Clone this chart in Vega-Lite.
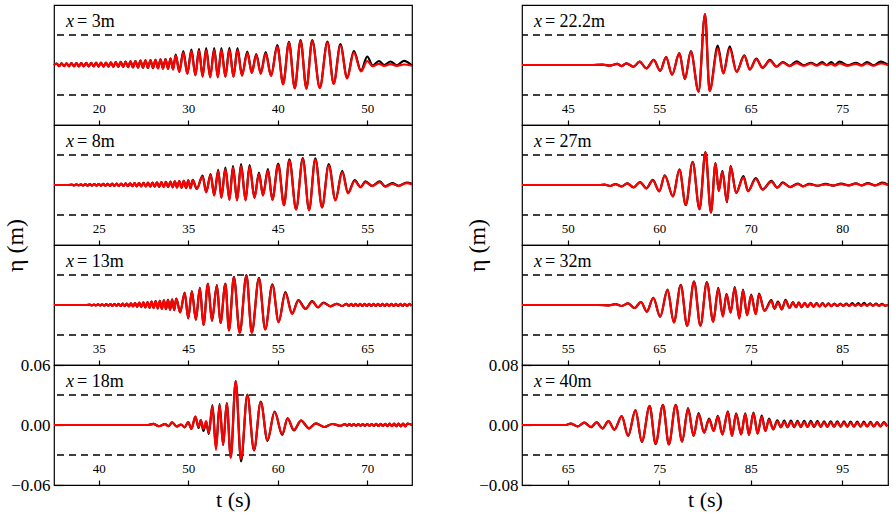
{
"$schema":"https://vega.github.io/schema/vega-lite/v6.json",
"background":"white",
"padding":{"left":2,"top":4,"right":2,"bottom":2},
"config":{"font":"serif","view":{"stroke":"black","strokeWidth":1.2},
"style":{"guide-label":{"font":"serif","fill":"black"},"guide-title":{"font":"serif","fill":"black","fontWeight":"normal"}},
"axis":{"domain":false,"grid":false,"labelFont":"serif","titleFont":"serif","tickColor":"black","labelColor":"black","titleColor":"black","titleFontWeight":"normal","labelFlush":false,"labelOverlap":false,"tickWidth":1.2},
"axisX":{"labelFont":"serif","titleFont":"serif","tickSize":-5,"labelFontSize":13,"labelPadding":-12,"labelBaseline":"middle","titleFontSize":22,"titlePadding":4},
"axisY":{"labelFont":"serif","titleFont":"serif","tickSize":-9,"labelFontSize":17,"labelPadding":13,"titleFontSize":24}},
"datasets":{
"d1":[{"t":15,"r":0,"b":0},{"t":15.3,"r":0.0015,"b":0.0015},{"t":15.58,"r":-0.0012,"b":-0.0012},{"t":15.85,"r":0.0016,"b":0.0016},{"t":16.13,"r":-0.0012,"b":-0.0012},{"t":16.4,"r":0.0017,"b":0.0017},{"t":16.68,"r":-0.0013,"b":-0.0013},{"t":16.95,"r":0.0018,"b":0.0018},{"t":17.23,"r":-0.0013,"b":-0.0013},{"t":17.5,"r":0.0019,"b":0.0019},{"t":17.78,"r":-0.0014,"b":-0.0014},{"t":18.05,"r":0.002,"b":0.002},{"t":18.33,"r":-0.0014,"b":-0.0014},{"t":18.6,"r":0.0021,"b":0.0021},{"t":18.88,"r":-0.0015,"b":-0.0015},{"t":19.15,"r":0.0022,"b":0.0022},{"t":19.43,"r":-0.0015,"b":-0.0015},{"t":19.7,"r":0.0023,"b":0.0023},{"t":19.98,"r":-0.0016,"b":-0.0016},{"t":20.25,"r":0.0024,"b":0.0024},{"t":20.53,"r":-0.0016,"b":-0.0016},{"t":20.8,"r":0.0025,"b":0.0025},{"t":21.08,"r":-0.0017,"b":-0.0017},{"t":21.35,"r":0.0027,"b":0.0027},{"t":21.63,"r":-0.0018,"b":-0.0018},{"t":21.9,"r":0.0029,"b":0.0029},{"t":22.18,"r":-0.0019,"b":-0.0019},{"t":22.45,"r":0.0031,"b":0.0031},{"t":22.73,"r":-0.002,"b":-0.002},{"t":23,"r":0.0034,"b":0.0034},{"t":23.28,"r":-0.0022,"b":-0.0022},{"t":23.55,"r":0.0037,"b":0.0037},{"t":23.83,"r":-0.0024,"b":-0.0024},{"t":24.1,"r":0.004,"b":0.004},{"t":24.38,"r":-0.0026,"b":-0.0026},{"t":24.66,"r":0.0043,"b":0.0043},{"t":24.94,"r":-0.0028,"b":-0.0028},{"t":25.22,"r":0.0046,"b":0.0046},{"t":25.5,"r":-0.003,"b":-0.003},{"t":25.78,"r":0.0049,"b":0.0049},{"t":26.06,"r":-0.0032,"b":-0.0032},{"t":26.34,"r":0.0052,"b":0.0052},{"t":26.62,"r":-0.0034,"b":-0.0034},{"t":26.9,"r":0.0055,"b":0.0056},{"t":27.18,"r":-0.0036,"b":-0.0036},{"t":27.46,"r":0.0058,"b":0.006},{"t":27.74,"r":-0.0038,"b":-0.0038},{"t":28.02,"r":0.0062,"b":0.0066},{"t":28.3,"r":-0.0045,"b":-0.0044},{"t":28.6,"r":0.0095,"b":0.0105},{"t":29,"r":-0.007,"b":-0.0065},{"t":29.45,"r":0.0125,"b":0.014},{"t":29.9,"r":-0.009,"b":-0.0085},{"t":30.35,"r":0.0138,"b":0.0155},{"t":30.8,"r":-0.0105,"b":-0.01},{"t":31.2,"r":0.0145,"b":0.0162},{"t":31.6,"r":-0.0118,"b":-0.0112},{"t":32,"r":0.015,"b":0.0168},{"t":32.45,"r":-0.0125,"b":-0.012},{"t":32.9,"r":0.0152,"b":0.017},{"t":33.3,"r":-0.0125,"b":-0.012},{"t":33.7,"r":0.0152,"b":0.017},{"t":34.15,"r":-0.012,"b":-0.0115},{"t":34.6,"r":0.0155,"b":0.0172},{"t":35.05,"r":-0.012,"b":-0.0115},{"t":35.5,"r":0.015,"b":0.0168},{"t":36,"r":-0.0108,"b":-0.0102},{"t":36.6,"r":0.012,"b":0.0135},{"t":37.1,"r":-0.008,"b":-0.0075},{"t":37.6,"r":0.0098,"b":0.011},{"t":38.1,"r":-0.0088,"b":-0.0083},{"t":38.65,"r":0.0115,"b":0.013},{"t":39.25,"r":-0.011,"b":-0.0105},{"t":39.95,"r":0.0185,"b":0.0198},{"t":40.6,"r":-0.0195,"b":-0.0188},{"t":41.25,"r":0.0222,"b":0.0232},{"t":41.9,"r":-0.0235,"b":-0.0228},{"t":42.55,"r":0.024,"b":0.0248},{"t":43.2,"r":-0.0238,"b":-0.023},{"t":43.85,"r":0.024,"b":0.0248},{"t":44.7,"r":-0.0232,"b":-0.0225},{"t":45.55,"r":0.0225,"b":0.0235},{"t":46.25,"r":-0.019,"b":-0.0183},{"t":47,"r":0.0195,"b":0.0208},{"t":47.75,"r":-0.0135,"b":-0.0128},{"t":48.5,"r":0.0125,"b":0.0142},{"t":49.3,"r":-0.0065,"b":-0.0055},{"t":50,"r":0.004,"b":0.0085},{"t":50.6,"r":-0.0012,"b":-0.0005},{"t":51.3,"r":0.0012,"b":0.004},{"t":51.9,"r":-0.001,"b":0},{"t":52.6,"r":0.0008,"b":0.0035},{"t":53.3,"r":-0.0008,"b":-0.0003},{"t":54.1,"r":0.0005,"b":0.0042},{"t":55,"r":-0.0008,"b":-0.0005}],
"d2":[{"t":20,"r":0,"b":0},{"t":21.6,"r":0,"b":0},{"t":22,"r":0.0005,"b":0.0005},{"t":22.25,"r":-0.0004,"b":-0.0004},{"t":22.5,"r":0.0006,"b":0.0006},{"t":22.75,"r":-0.0004,"b":-0.0004},{"t":23,"r":0.0007,"b":0.0007},{"t":23.25,"r":-0.0005,"b":-0.0005},{"t":23.5,"r":0.0008,"b":0.0008},{"t":23.75,"r":-0.0006,"b":-0.0006},{"t":24,"r":0.0009,"b":0.0009},{"t":24.25,"r":-0.0006,"b":-0.0006},{"t":24.5,"r":0.001,"b":0.001},{"t":24.75,"r":-0.0007,"b":-0.0007},{"t":25,"r":0.001,"b":0.001},{"t":25.25,"r":-0.0007,"b":-0.0007},{"t":25.5,"r":0.0011,"b":0.0011},{"t":25.75,"r":-0.0008,"b":-0.0008},{"t":26,"r":0.0012,"b":0.0012},{"t":26.25,"r":-0.0008,"b":-0.0008},{"t":26.5,"r":0.0013,"b":0.0013},{"t":26.75,"r":-0.0009,"b":-0.0009},{"t":27,"r":0.0014,"b":0.0014},{"t":27.25,"r":-0.001,"b":-0.001},{"t":27.5,"r":0.0015,"b":0.0015},{"t":27.75,"r":-0.001,"b":-0.001},{"t":28,"r":0.0016,"b":0.0016},{"t":28.25,"r":-0.0011,"b":-0.0011},{"t":28.5,"r":0.0017,"b":0.0017},{"t":28.75,"r":-0.0012,"b":-0.0012},{"t":29,"r":0.0018,"b":0.0018},{"t":29.25,"r":-0.0013,"b":-0.0013},{"t":29.5,"r":0.002,"b":0.002},{"t":29.75,"r":-0.0014,"b":-0.0014},{"t":30,"r":0.0021,"b":0.0021},{"t":30.25,"r":-0.0015,"b":-0.0015},{"t":30.5,"r":0.0023,"b":0.0023},{"t":30.75,"r":-0.0016,"b":-0.0016},{"t":31,"r":0.0025,"b":0.0025},{"t":31.25,"r":-0.0017,"b":-0.0017},{"t":31.5,"r":0.0027,"b":0.0027},{"t":31.75,"r":-0.0019,"b":-0.0019},{"t":32,"r":0.0029,"b":0.0029},{"t":32.25,"r":-0.002,"b":-0.002},{"t":32.5,"r":0.0031,"b":0.0031},{"t":32.75,"r":-0.0022,"b":-0.0022},{"t":33,"r":0.0033,"b":0.0033},{"t":33.25,"r":-0.0023,"b":-0.0023},{"t":33.5,"r":0.0036,"b":0.0036},{"t":33.75,"r":-0.0025,"b":-0.0025},{"t":34,"r":0.0039,"b":0.0039},{"t":34.25,"r":-0.0027,"b":-0.0027},{"t":34.5,"r":0.0042,"b":0.0042},{"t":34.75,"r":-0.003,"b":-0.003},{"t":35,"r":0.0046,"b":0.0046},{"t":35.25,"r":-0.0032,"b":-0.0032},{"t":35.5,"r":0.005,"b":0.0052},{"t":35.95,"r":-0.004,"b":-0.004},{"t":36.6,"r":0.0085,"b":0.0095},{"t":37,"r":-0.0073,"b":-0.007},{"t":37.5,"r":0.0098,"b":0.011},{"t":37.9,"r":-0.0106,"b":-0.0102},{"t":38.35,"r":0.0138,"b":0.0152},{"t":38.7,"r":-0.0129,"b":-0.0125},{"t":39.15,"r":0.016,"b":0.0175},{"t":39.6,"r":-0.0149,"b":-0.0145},{"t":40,"r":0.0175,"b":0.019},{"t":40.45,"r":-0.0155,"b":-0.015},{"t":40.9,"r":0.019,"b":0.0208},{"t":41.4,"r":-0.0155,"b":-0.015},{"t":41.85,"r":0.0183,"b":0.0198},{"t":42.4,"r":-0.0129,"b":-0.0124},{"t":42.9,"r":0.0112,"b":0.0125},{"t":43.35,"r":-0.0106,"b":-0.0102},{"t":43.9,"r":0.0145,"b":0.0158},{"t":44.4,"r":-0.0149,"b":-0.0145},{"t":45.05,"r":0.02,"b":0.0214},{"t":45.7,"r":-0.0204,"b":-0.0198},{"t":46.3,"r":0.0245,"b":0.0257},{"t":47.05,"r":-0.0247,"b":-0.024},{"t":47.8,"r":0.0258,"b":0.0268},{"t":48.5,"r":-0.0254,"b":-0.0247},{"t":49.2,"r":0.0255,"b":0.0267},{"t":49.95,"r":-0.0227,"b":-0.022},{"t":50.7,"r":0.0195,"b":0.0208},{"t":51.45,"r":-0.0155,"b":-0.015},{"t":52.2,"r":0.0128,"b":0.0142},{"t":52.85,"r":-0.0083,"b":-0.0078},{"t":53.6,"r":0.004,"b":0.005},{"t":54.25,"r":-0.0023,"b":-0.002},{"t":54.8,"r":0.0028,"b":0.0036},{"t":55.55,"r":-0.001,"b":-0.0008},{"t":56.4,"r":0.0028,"b":0.0036},{"t":57,"r":-0.0016,"b":-0.0013},{"t":57.8,"r":0.0012,"b":0.0018},{"t":58.5,"r":-0.001,"b":-0.0008},{"t":59.4,"r":0.0018,"b":0.0025},{"t":60,"r":0.0005,"b":0.0012}],
"d3":[{"t":30,"r":0,"b":0},{"t":33.6,"r":0,"b":0},{"t":34,"r":0.0004,"b":0.0004},{"t":34.23,"r":-0.0004,"b":-0.0004},{"t":34.46,"r":0.0005,"b":0.0005},{"t":34.69,"r":-0.0005,"b":-0.0005},{"t":34.92,"r":0.0006,"b":0.0006},{"t":35.15,"r":-0.0005,"b":-0.0005},{"t":35.38,"r":0.0007,"b":0.0007},{"t":35.61,"r":-0.0006,"b":-0.0006},{"t":35.84,"r":0.0008,"b":0.0008},{"t":36.07,"r":-0.0007,"b":-0.0007},{"t":36.3,"r":0.0009,"b":0.0009},{"t":36.53,"r":-0.0008,"b":-0.0008},{"t":36.76,"r":0.001,"b":0.001},{"t":36.99,"r":-0.0009,"b":-0.0009},{"t":37.22,"r":0.0011,"b":0.0011},{"t":37.45,"r":-0.001,"b":-0.001},{"t":37.68,"r":0.0013,"b":0.0013},{"t":37.91,"r":-0.0012,"b":-0.0012},{"t":38.14,"r":0.0015,"b":0.0015},{"t":38.37,"r":-0.0014,"b":-0.0014},{"t":38.6,"r":0.0017,"b":0.0017},{"t":38.83,"r":-0.0015,"b":-0.0015},{"t":39.06,"r":0.002,"b":0.002},{"t":39.29,"r":-0.0018,"b":-0.0018},{"t":39.52,"r":0.0023,"b":0.0023},{"t":39.75,"r":-0.0021,"b":-0.0021},{"t":39.98,"r":0.0027,"b":0.0027},{"t":40.21,"r":-0.0024,"b":-0.0024},{"t":40.44,"r":0.003,"b":0.003},{"t":40.67,"r":-0.0027,"b":-0.0027},{"t":40.9,"r":0.0034,"b":0.0034},{"t":41.13,"r":-0.0031,"b":-0.0031},{"t":41.36,"r":0.0038,"b":0.0038},{"t":41.59,"r":-0.0034,"b":-0.0034},{"t":41.82,"r":0.0042,"b":0.0042},{"t":42.05,"r":-0.0038,"b":-0.0038},{"t":42.28,"r":0.0047,"b":0.0047},{"t":42.51,"r":-0.0042,"b":-0.0042},{"t":42.74,"r":0.0052,"b":0.0052},{"t":42.97,"r":-0.0047,"b":-0.0047},{"t":43.2,"r":0.0057,"b":0.0057},{"t":43.43,"r":-0.0051,"b":-0.0051},{"t":43.66,"r":0.0063,"b":0.0063},{"t":44.1,"r":-0.0073,"b":-0.0073},{"t":44.6,"r":0.012,"b":0.0125},{"t":45,"r":-0.0133,"b":-0.0133},{"t":45.4,"r":0.0133,"b":0.014},{"t":45.85,"r":-0.0147,"b":-0.0147},{"t":46.3,"r":0.0167,"b":0.0172},{"t":46.7,"r":-0.02,"b":-0.02},{"t":47.2,"r":0.021,"b":0.0215},{"t":47.65,"r":-0.0157,"b":-0.0157},{"t":48.2,"r":0.0193,"b":0.0198},{"t":48.6,"r":-0.018,"b":-0.018},{"t":49.15,"r":0.021,"b":0.0215},{"t":49.55,"r":-0.0257,"b":-0.025},{"t":50.1,"r":0.0277,"b":0.0282},{"t":50.75,"r":-0.028,"b":-0.0275},{"t":51.5,"r":0.0293,"b":0.0298},{"t":52.1,"r":-0.028,"b":-0.0275},{"t":52.9,"r":0.0267,"b":0.0272},{"t":53.6,"r":-0.0247,"b":-0.0242},{"t":54.4,"r":0.02,"b":0.0207},{"t":55.1,"r":-0.0173,"b":-0.0168},{"t":55.85,"r":0.012,"b":0.0128},{"t":56.6,"r":-0.009,"b":-0.0085},{"t":57.3,"r":0.0043,"b":0.005},{"t":58.1,"r":-0.004,"b":-0.0037},{"t":58.85,"r":0.0033,"b":0.0038},{"t":59.5,"r":-0.0023,"b":-0.0023},{"t":60.1,"r":0.002,"b":0.0024},{"t":60.9,"r":-0.0013,"b":-0.0013},{"t":61.6,"r":0.0012,"b":0.0012},{"t":62.2,"r":-0.001,"b":-0.001},{"t":62.7,"r":0.0012,"b":0.0012},{"t":62.95,"r":-0.001,"b":-0.001},{"t":63.2,"r":0.0012,"b":0.0012},{"t":63.45,"r":-0.001,"b":-0.001},{"t":63.7,"r":0.0012,"b":0.0012},{"t":63.95,"r":-0.001,"b":-0.001},{"t":64.2,"r":0.0012,"b":0.0012},{"t":64.45,"r":-0.001,"b":-0.001},{"t":64.7,"r":0.0012,"b":0.0012},{"t":64.95,"r":-0.001,"b":-0.001},{"t":65.2,"r":0.0012,"b":0.0012},{"t":65.45,"r":-0.001,"b":-0.001},{"t":65.7,"r":0.0012,"b":0.0012},{"t":65.95,"r":-0.001,"b":-0.001},{"t":66.2,"r":0.0012,"b":0.0012},{"t":66.45,"r":-0.001,"b":-0.001},{"t":66.7,"r":0.0012,"b":0.0012},{"t":66.95,"r":-0.001,"b":-0.001},{"t":67.2,"r":0.0012,"b":0.0012},{"t":67.45,"r":-0.001,"b":-0.001},{"t":67.7,"r":0.0012,"b":0.0012},{"t":67.95,"r":-0.001,"b":-0.001},{"t":68.2,"r":0.0012,"b":0.0012},{"t":68.45,"r":-0.001,"b":-0.001},{"t":68.7,"r":0.0012,"b":0.0012},{"t":68.95,"r":-0.001,"b":-0.001},{"t":69.2,"r":0.0012,"b":0.0012},{"t":69.45,"r":-0.001,"b":-0.001},{"t":69.7,"r":0.0012,"b":0.0012},{"t":69.95,"r":-0.001,"b":-0.001}],
"d4":[{"t":35,"r":0,"b":0},{"t":44.5,"r":0,"b":0},{"t":45.5,"r":0,"b":0},{"t":46.1,"r":0.0012,"b":0.0012},{"t":46.7,"r":-0.0012,"b":-0.0012},{"t":47.4,"r":0.0008,"b":0.0008},{"t":47.8,"r":-0.0012,"b":-0.0012},{"t":48.2,"r":0.0027,"b":0.0027},{"t":48.7,"r":-0.0015,"b":-0.0015},{"t":49.2,"r":0.0005,"b":0.0005},{"t":49.6,"r":-0.0023,"b":-0.0023},{"t":50,"r":0.003,"b":0.003},{"t":50.35,"r":-0.004,"b":-0.004},{"t":50.8,"r":0.0083,"b":0.0083},{"t":51.15,"r":-0.002,"b":-0.003},{"t":51.4,"r":0.005,"b":0.005},{"t":51.7,"r":-0.004,"b":-0.006},{"t":52,"r":0.004,"b":0.003},{"t":52.3,"r":-0.008,"b":-0.009},{"t":52.7,"r":0.019,"b":0.02},{"t":53.1,"r":-0.025,"b":-0.023},{"t":53.5,"r":0.02,"b":0.021},{"t":53.9,"r":-0.02,"b":-0.02},{"t":54.3,"r":0.0215,"b":0.022},{"t":54.75,"r":-0.033,"b":-0.032},{"t":55.3,"r":0.044,"b":0.044},{"t":55.9,"r":-0.034,"b":-0.0365},{"t":56.6,"r":0.03,"b":0.0305},{"t":57.35,"r":-0.025,"b":-0.0255},{"t":58.1,"r":0.023,"b":0.0235},{"t":58.85,"r":-0.015,"b":-0.0158},{"t":59.65,"r":0.013,"b":0.0135},{"t":60.5,"r":-0.009,"b":-0.0098},{"t":61.1,"r":0.0066,"b":0.0066},{"t":61.8,"r":-0.005,"b":-0.0055},{"t":62.6,"r":0.0043,"b":0.0043},{"t":63.5,"r":-0.0033,"b":-0.0033},{"t":64.25,"r":0.0017,"b":0.0017},{"t":65.2,"r":-0.002,"b":-0.002},{"t":66.1,"r":0.001,"b":0.001},{"t":67,"r":-0.0008,"b":-0.0008},{"t":67.5,"r":0.0008,"b":0.0008},{"t":67.75,"r":-0.0006,"b":-0.0006},{"t":68,"r":0.0008,"b":0.0008},{"t":68.25,"r":-0.0006,"b":-0.0006},{"t":68.5,"r":0.0008,"b":0.0008},{"t":68.75,"r":-0.0007,"b":-0.0007},{"t":69,"r":0.0009,"b":0.0009},{"t":69.25,"r":-0.0007,"b":-0.0007},{"t":69.5,"r":0.0009,"b":0.0009},{"t":69.75,"r":-0.0008,"b":-0.0008},{"t":70,"r":0.001,"b":0.001},{"t":70.25,"r":-0.0008,"b":-0.0008},{"t":70.5,"r":0.001,"b":0.001},{"t":70.75,"r":-0.0009,"b":-0.0009},{"t":71,"r":0.0011,"b":0.0011},{"t":71.25,"r":-0.001,"b":-0.001},{"t":71.5,"r":0.0012,"b":0.0012},{"t":71.75,"r":-0.001,"b":-0.001},{"t":72,"r":0.0012,"b":0.0012},{"t":72.25,"r":-0.0011,"b":-0.0011},{"t":72.5,"r":0.0013,"b":0.0013},{"t":72.75,"r":-0.0012,"b":-0.0012},{"t":73,"r":0.0014,"b":0.0014},{"t":73.25,"r":-0.0012,"b":-0.0012},{"t":73.5,"r":0.0014,"b":0.0014},{"t":73.75,"r":-0.0013,"b":-0.0013},{"t":74,"r":0.0015,"b":0.0015},{"t":74.25,"r":-0.0013,"b":-0.0013},{"t":74.5,"r":0.0015,"b":0.0015},{"t":75,"r":0,"b":0}],
"d5":[{"t":40,"r":0,"b":0},{"t":47.5,"r":0,"b":0},{"t":48.8,"r":0.0005,"b":0.0005},{"t":49.6,"r":-0.0008,"b":-0.0008},{"t":50.4,"r":0.0014,"b":0.0014},{"t":50.9,"r":-0.0014,"b":-0.0014},{"t":51.4,"r":0.0023,"b":0.0023},{"t":52.2,"r":-0.0023,"b":-0.0023},{"t":52.85,"r":0.0045,"b":0.0045},{"t":53.6,"r":-0.0045,"b":-0.0045},{"t":54.4,"r":0.0068,"b":0.0068},{"t":55.1,"r":-0.0077,"b":-0.0077},{"t":55.75,"r":0.0104,"b":0.0104},{"t":56.4,"r":-0.0128,"b":-0.0128},{"t":57.2,"r":0.0158,"b":0.0158},{"t":57.8,"r":-0.019,"b":-0.019},{"t":58.45,"r":0.018,"b":0.0185},{"t":59.3,"r":-0.036,"b":-0.035},{"t":60,"r":0.068,"b":0.068},{"t":60.5,"r":-0.035,"b":-0.0345},{"t":61.4,"r":0.022,"b":0.026},{"t":62,"r":-0.0113,"b":-0.011},{"t":62.7,"r":0.022,"b":0.025},{"t":63.45,"r":-0.009,"b":-0.009},{"t":64.3,"r":0.0122,"b":0.0128},{"t":64.9,"r":-0.006,"b":-0.006},{"t":65.6,"r":0.0077,"b":0.0085},{"t":66.3,"r":-0.0036,"b":-0.0036},{"t":67.1,"r":0.0059,"b":0.0068},{"t":67.8,"r":-0.0023,"b":-0.002},{"t":68.5,"r":0.003,"b":0.004},{"t":69.25,"r":-0.0014,"b":-0.001},{"t":70,"r":0.0025,"b":0.005},{"t":70.8,"r":-0.001,"b":-0.0005},{"t":71.6,"r":0.002,"b":0.003},{"t":72.2,"r":-0.001,"b":0},{"t":72.8,"r":0.002,"b":0.004},{"t":73.3,"r":-0.0005,"b":0},{"t":73.8,"r":0.0015,"b":0.004},{"t":74.2,"r":-0.0008,"b":0},{"t":74.7,"r":0.002,"b":0.0045},{"t":75.6,"r":-0.001,"b":-0.0005},{"t":76.5,"r":0.0015,"b":0.003},{"t":77.1,"r":-0.0008,"b":0},{"t":77.7,"r":0.002,"b":0.004},{"t":78.4,"r":-0.001,"b":-0.0005},{"t":79.2,"r":0.002,"b":0.0045},{"t":80,"r":0,"b":0}],
"d6":[{"t":45,"r":0,"b":0},{"t":53.5,"r":0,"b":0},{"t":54,"r":0.0005,"b":0.0005},{"t":54.65,"r":-0.0013,"b":-0.0013},{"t":55.2,"r":0.0013,"b":0.0013},{"t":55.9,"r":-0.0018,"b":-0.0018},{"t":56.5,"r":0.0022,"b":0.0022},{"t":57.2,"r":-0.0031,"b":-0.0031},{"t":57.9,"r":0.0036,"b":0.004},{"t":58.6,"r":-0.0044,"b":-0.0044},{"t":59.3,"r":0.0062,"b":0.0068},{"t":60,"r":-0.0084,"b":-0.0084},{"t":60.6,"r":0.0124,"b":0.013},{"t":61.5,"r":-0.0151,"b":-0.0151},{"t":62.2,"r":0.0204,"b":0.021},{"t":62.9,"r":-0.0262,"b":-0.0268},{"t":63.65,"r":0.0307,"b":0.031},{"t":64.4,"r":-0.032,"b":-0.0325},{"t":65.05,"r":0.0436,"b":0.044},{"t":65.65,"r":-0.0364,"b":-0.037},{"t":66.15,"r":0.0284,"b":0.0293},{"t":66.5,"r":-0.008,"b":-0.008},{"t":66.9,"r":0.018,"b":0.019},{"t":67.4,"r":-0.0222,"b":-0.023},{"t":67.8,"r":0.0249,"b":0.0255},{"t":68.4,"r":-0.0107,"b":-0.0105},{"t":69.2,"r":0.0102,"b":0.012},{"t":69.7,"r":-0.0084,"b":-0.008},{"t":70.55,"r":0.008,"b":0.0092},{"t":71.3,"r":-0.0062,"b":-0.0058},{"t":72.25,"r":0.0044,"b":0.0055},{"t":72.9,"r":-0.0036,"b":-0.0036},{"t":73.5,"r":0.0027,"b":0.0035},{"t":74.3,"r":-0.0027,"b":-0.0027},{"t":75.15,"r":0.0013,"b":0.002},{"t":75.7,"r":-0.0018,"b":-0.0018},{"t":76.4,"r":0.0009,"b":0.0015},{"t":77.3,"r":-0.001,"b":-0.001},{"t":78.2,"r":0.0009,"b":0.0015},{"t":79,"r":-0.0008,"b":-0.0008},{"t":79.9,"r":0.0013,"b":0.0018},{"t":80.7,"r":-0.0005,"b":-0.0005},{"t":81.5,"r":0.0018,"b":0.0022},{"t":82.1,"r":-0.0005,"b":-0.0005},{"t":82.8,"r":0.0018,"b":0.0027},{"t":83.6,"r":-0.0005,"b":-0.0005},{"t":84.4,"r":0.0022,"b":0.0031},{"t":85,"r":0,"b":0}],
"d7":[{"t":50,"r":0,"b":0},{"t":58.5,"r":0,"b":0},{"t":59.5,"r":-0.0005,"b":-0.0005},{"t":60.2,"r":0.0013,"b":0.0013},{"t":60.9,"r":-0.0013,"b":-0.0013},{"t":61.6,"r":0.0022,"b":0.0022},{"t":62.3,"r":-0.004,"b":-0.004},{"t":63,"r":0.004,"b":0.004},{"t":63.65,"r":-0.0088,"b":-0.0088},{"t":64.35,"r":0.0097,"b":0.0097},{"t":65.1,"r":-0.0155,"b":-0.0155},{"t":65.9,"r":0.0199,"b":0.0205},{"t":66.6,"r":-0.0234,"b":-0.023},{"t":67.35,"r":0.0261,"b":0.027},{"t":68.05,"r":-0.0279,"b":-0.0275},{"t":68.8,"r":0.0309,"b":0.0315},{"t":69.5,"r":-0.0279,"b":-0.0272},{"t":70.2,"r":0.0296,"b":0.0305},{"t":70.9,"r":-0.0225,"b":-0.022},{"t":71.45,"r":0.0217,"b":0.023},{"t":71.95,"r":-0.0155,"b":-0.015},{"t":72.35,"r":0.0141,"b":0.015},{"t":72.8,"r":-0.0102,"b":-0.0098},{"t":73.25,"r":0.023,"b":0.024},{"t":73.75,"r":-0.0181,"b":-0.0175},{"t":74.15,"r":0.0195,"b":0.0205},{"t":74.6,"r":-0.0137,"b":-0.0132},{"t":75.05,"r":0.0128,"b":0.0138},{"t":75.55,"r":-0.0124,"b":-0.012},{"t":75.9,"r":0.0141,"b":0.0152},{"t":76.5,"r":-0.008,"b":-0.0075},{"t":77.25,"r":0.0053,"b":0.0065},{"t":77.6,"r":-0.0049,"b":-0.0049},{"t":77.97,"r":0.0031,"b":0.0045},{"t":78.4,"r":-0.0057,"b":-0.0057},{"t":78.8,"r":0.0057,"b":0.007},{"t":79.25,"r":-0.004,"b":-0.004},{"t":79.6,"r":0.0031,"b":0.004},{"t":79.95,"r":-0.003,"b":-0.003},{"t":80.25,"r":0.0028,"b":0.0035},{"t":80.55,"r":-0.0028,"b":-0.0028},{"t":80.9,"r":0.0025,"b":0.003},{"t":81.2,"r":-0.0025,"b":-0.0025},{"t":81.55,"r":0.0023,"b":0.003},{"t":81.85,"r":-0.0023,"b":-0.0023},{"t":82.2,"r":0.002,"b":0.0027},{"t":82.5,"r":-0.002,"b":-0.002},{"t":82.85,"r":0.0018,"b":0.0025},{"t":83.15,"r":-0.0018,"b":-0.0018},{"t":83.5,"r":0.0015,"b":0.0022},{"t":83.8,"r":-0.0015,"b":-0.0015},{"t":84.15,"r":0.0013,"b":0.002},{"t":84.45,"r":-0.0013,"b":-0.0013},{"t":84.8,"r":0.0012,"b":0.002},{"t":85.1,"r":-0.0012,"b":-0.0012},{"t":85.45,"r":0.0011,"b":0.0018},{"t":85.75,"r":-0.0011,"b":-0.0011},{"t":86.1,"r":0.001,"b":0.0025},{"t":86.4,"r":-0.001,"b":-0.001},{"t":86.75,"r":0.001,"b":0.0025},{"t":87.05,"r":-0.001,"b":-0.001},{"t":87.4,"r":0.001,"b":0.003},{"t":87.7,"r":-0.001,"b":-0.001},{"t":88.05,"r":0.0012,"b":0.0022},{"t":88.35,"r":-0.001,"b":-0.001},{"t":88.7,"r":0.0012,"b":0.0018},{"t":89,"r":-0.001,"b":-0.001},{"t":89.35,"r":0.001,"b":0.0015},{"t":89.65,"r":-0.0008,"b":-0.0008},{"t":90,"r":0,"b":0}],
"d8":[{"t":60,"r":0,"b":0},{"t":64.8,"r":0,"b":0},{"t":65.3,"r":0.0018,"b":0.0018},{"t":66.1,"r":-0.0018,"b":-0.0018},{"t":66.8,"r":0.0031,"b":0.0031},{"t":67.55,"r":-0.0027,"b":-0.0027},{"t":68.15,"r":0.0035,"b":0.0035},{"t":68.8,"r":-0.0044,"b":-0.0044},{"t":69.45,"r":0.0053,"b":0.0053},{"t":70.1,"r":-0.0062,"b":-0.0062},{"t":70.9,"r":0.0119,"b":0.0119},{"t":71.6,"r":-0.0146,"b":-0.0146},{"t":72.4,"r":0.0195,"b":0.0198},{"t":73.1,"r":-0.0221,"b":-0.0225},{"t":73.95,"r":0.0252,"b":0.0255},{"t":74.6,"r":-0.0248,"b":-0.0255},{"t":75.4,"r":0.0265,"b":0.0268},{"t":76.05,"r":-0.0256,"b":-0.026},{"t":76.8,"r":0.0265,"b":0.0268},{"t":77.5,"r":-0.0221,"b":-0.0221},{"t":78.15,"r":0.0215,"b":0.0225},{"t":78.75,"r":-0.0146,"b":-0.0146},{"t":79.3,"r":0.0145,"b":0.0158},{"t":79.9,"r":-0.0102,"b":-0.0102},{"t":80.45,"r":0.0075,"b":0.0085},{"t":80.95,"r":-0.008,"b":-0.008},{"t":81.4,"r":0.0112,"b":0.0122},{"t":81.9,"r":-0.0124,"b":-0.0124},{"t":82.5,"r":0.0172,"b":0.0182},{"t":82.95,"r":-0.0146,"b":-0.0146},{"t":83.4,"r":0.0145,"b":0.0155},{"t":83.95,"r":-0.0124,"b":-0.0124},{"t":84.4,"r":0.0145,"b":0.0155},{"t":84.8,"r":-0.0133,"b":-0.0133},{"t":85.3,"r":0.0155,"b":0.0165},{"t":85.75,"r":-0.0115,"b":-0.0115},{"t":86.2,"r":0.011,"b":0.0125},{"t":86.6,"r":-0.008,"b":-0.008},{"t":87,"r":0.0072,"b":0.0085},{"t":87.45,"r":-0.0057,"b":-0.0057},{"t":87.9,"r":0.005,"b":0.0062},{"t":88.3,"r":-0.003,"b":-0.003},{"t":88.66,"r":0.0042,"b":0.0058},{"t":89.02,"r":-0.0027,"b":-0.0027},{"t":89.39,"r":0.0042,"b":0.0058},{"t":89.75,"r":-0.0027,"b":-0.0027},{"t":90.11,"r":0.0042,"b":0.0056},{"t":90.47,"r":-0.0027,"b":-0.0027},{"t":90.84,"r":0.004,"b":0.0055},{"t":91.2,"r":-0.0026,"b":-0.0026},{"t":91.56,"r":0.004,"b":0.0056},{"t":91.92,"r":-0.0025,"b":-0.0025},{"t":92.29,"r":0.0038,"b":0.0054},{"t":92.65,"r":-0.0025,"b":-0.0025},{"t":93.01,"r":0.0037,"b":0.005},{"t":93.37,"r":-0.0024,"b":-0.0024},{"t":93.74,"r":0.0036,"b":0.005},{"t":94.1,"r":-0.0023,"b":-0.0023},{"t":94.46,"r":0.0035,"b":0.005},{"t":94.82,"r":-0.0023,"b":-0.0023},{"t":95.19,"r":0.0034,"b":0.0048},{"t":95.55,"r":-0.0022,"b":-0.0022},{"t":95.91,"r":0.0033,"b":0.0046},{"t":96.27,"r":-0.0022,"b":-0.0022},{"t":96.64,"r":0.0032,"b":0.0045},{"t":97,"r":-0.0021,"b":-0.0021},{"t":97.36,"r":0.003,"b":0.0044},{"t":97.72,"r":-0.002,"b":-0.002},{"t":98.09,"r":0.003,"b":0.0042},{"t":98.45,"r":-0.002,"b":-0.002},{"t":98.81,"r":0.0029,"b":0.004},{"t":99.17,"r":-0.002,"b":-0.002},{"t":99.54,"r":0.0028,"b":0.0038},{"t":99.9,"r":-0.0018,"b":-0.0018}]
},
"columns":2,
"spacing":{"row":0,"column":110},
"bounds":"flush",
"align":"each",
"concat":[
{"width":358,"height":120,"data":{"name":"d1"},"layer":[
{"mark":{"type":"line","color":"black","strokeWidth":2.2,"interpolate":"monotone"},"encoding":{"x":{"field":"t","type":"quantitative","scale":{"domain":[15,55],"nice":false,"zero":false},"axis":{"values":[20,30,40,50],"format":"d","title":null,"labelFont":"serif"}},"y":{"field":"b","type":"quantitative","scale":{"domain":[-0.06,0.06],"nice":false,"zero":false},"axis":{"ticks":false,"labels":false,"title":null}}}},
{"data":{"values":[{}]},"mark":{"type":"rule","color":"black","strokeWidth":1.3,"strokeDash":[7,5]},"encoding":{"y":{"datum":0.03,"type":"quantitative"}}},
{"data":{"values":[{}]},"mark":{"type":"rule","color":"black","strokeWidth":1.3,"strokeDash":[7,5]},"encoding":{"y":{"datum":-0.03,"type":"quantitative"}}},
{"mark":{"type":"line","color":"#ff0000","strokeWidth":2.2,"interpolate":"monotone"},"encoding":{"x":{"field":"t","type":"quantitative"},"y":{"field":"r","type":"quantitative"}}},
{"data":{"values":[{}]},"mark":{"type":"text","font":"Liberation Serif","fontSize":18,"fontStyle":"italic","align":"left","baseline":"alphabetic"},"encoding":{"x":{"datum":16.34,"type":"quantitative"},"y":{"datum":0.038,"type":"quantitative"},"text":{"value":"x"}}},
{"data":{"values":[{}]},"mark":{"type":"text","font":"Liberation Serif","fontSize":18,"align":"left","baseline":"alphabetic"},"encoding":{"x":{"datum":17.57,"type":"quantitative"},"y":{"datum":0.038,"type":"quantitative"},"text":{"value":"= 3m"}}}
]},
{"width":366,"height":120,"data":{"name":"d5"},"layer":[
{"mark":{"type":"line","color":"black","strokeWidth":2.2,"interpolate":"monotone"},"encoding":{"x":{"field":"t","type":"quantitative","scale":{"domain":[40,80],"nice":false,"zero":false},"axis":{"values":[45,55,65,75],"format":"d","title":null,"labelFont":"serif"}},"y":{"field":"b","type":"quantitative","scale":{"domain":[-0.08,0.08],"nice":false,"zero":false},"axis":{"ticks":false,"labels":false,"title":null}}}},
{"data":{"values":[{}]},"mark":{"type":"rule","color":"black","strokeWidth":1.3,"strokeDash":[7,5]},"encoding":{"y":{"datum":0.04,"type":"quantitative"}}},
{"data":{"values":[{}]},"mark":{"type":"rule","color":"black","strokeWidth":1.3,"strokeDash":[7,5]},"encoding":{"y":{"datum":-0.04,"type":"quantitative"}}},
{"mark":{"type":"line","color":"#ff0000","strokeWidth":2.2,"interpolate":"monotone"},"encoding":{"x":{"field":"t","type":"quantitative"},"y":{"field":"r","type":"quantitative"}}},
{"data":{"values":[{}]},"mark":{"type":"text","font":"Liberation Serif","fontSize":18,"fontStyle":"italic","align":"left","baseline":"alphabetic"},"encoding":{"x":{"datum":41.31,"type":"quantitative"},"y":{"datum":0.051,"type":"quantitative"},"text":{"value":"x"}}},
{"data":{"values":[{}]},"mark":{"type":"text","font":"Liberation Serif","fontSize":18,"align":"left","baseline":"alphabetic"},"encoding":{"x":{"datum":42.51,"type":"quantitative"},"y":{"datum":0.051,"type":"quantitative"},"text":{"value":"= 22.2m"}}}
]},
{"width":358,"height":120,"data":{"name":"d2"},"layer":[
{"mark":{"type":"line","color":"black","strokeWidth":2.2,"interpolate":"monotone"},"encoding":{"x":{"field":"t","type":"quantitative","scale":{"domain":[20,60],"nice":false,"zero":false},"axis":{"values":[25,35,45,55],"format":"d","title":null,"labelFont":"serif"}},"y":{"field":"b","type":"quantitative","scale":{"domain":[-0.06,0.06],"nice":false,"zero":false},"axis":{"ticks":false,"labels":false,"title":"η (m)","titleY":120,"titlePadding":27,"titleFont":"serif"}}}},
{"data":{"values":[{}]},"mark":{"type":"rule","color":"black","strokeWidth":1.3,"strokeDash":[7,5]},"encoding":{"y":{"datum":0.03,"type":"quantitative"}}},
{"data":{"values":[{}]},"mark":{"type":"rule","color":"black","strokeWidth":1.3,"strokeDash":[7,5]},"encoding":{"y":{"datum":-0.03,"type":"quantitative"}}},
{"mark":{"type":"line","color":"#ff0000","strokeWidth":2.2,"interpolate":"monotone"},"encoding":{"x":{"field":"t","type":"quantitative"},"y":{"field":"r","type":"quantitative"}}},
{"data":{"values":[{}]},"mark":{"type":"text","font":"Liberation Serif","fontSize":18,"fontStyle":"italic","align":"left","baseline":"alphabetic"},"encoding":{"x":{"datum":21.34,"type":"quantitative"},"y":{"datum":0.038,"type":"quantitative"},"text":{"value":"x"}}},
{"data":{"values":[{}]},"mark":{"type":"text","font":"Liberation Serif","fontSize":18,"align":"left","baseline":"alphabetic"},"encoding":{"x":{"datum":22.57,"type":"quantitative"},"y":{"datum":0.038,"type":"quantitative"},"text":{"value":"= 8m"}}}
]},
{"width":366,"height":120,"data":{"name":"d6"},"layer":[
{"mark":{"type":"line","color":"black","strokeWidth":2.2,"interpolate":"monotone"},"encoding":{"x":{"field":"t","type":"quantitative","scale":{"domain":[45,85],"nice":false,"zero":false},"axis":{"values":[50,60,70,80],"format":"d","title":null,"labelFont":"serif"}},"y":{"field":"b","type":"quantitative","scale":{"domain":[-0.08,0.08],"nice":false,"zero":false},"axis":{"ticks":false,"labels":false,"title":"η (m)","titleY":120,"titlePadding":33,"titleFont":"serif"}}}},
{"data":{"values":[{}]},"mark":{"type":"rule","color":"black","strokeWidth":1.3,"strokeDash":[7,5]},"encoding":{"y":{"datum":0.04,"type":"quantitative"}}},
{"data":{"values":[{}]},"mark":{"type":"rule","color":"black","strokeWidth":1.3,"strokeDash":[7,5]},"encoding":{"y":{"datum":-0.04,"type":"quantitative"}}},
{"mark":{"type":"line","color":"#ff0000","strokeWidth":2.2,"interpolate":"monotone"},"encoding":{"x":{"field":"t","type":"quantitative"},"y":{"field":"r","type":"quantitative"}}},
{"data":{"values":[{}]},"mark":{"type":"text","font":"Liberation Serif","fontSize":18,"fontStyle":"italic","align":"left","baseline":"alphabetic"},"encoding":{"x":{"datum":46.31,"type":"quantitative"},"y":{"datum":0.051,"type":"quantitative"},"text":{"value":"x"}}},
{"data":{"values":[{}]},"mark":{"type":"text","font":"Liberation Serif","fontSize":18,"align":"left","baseline":"alphabetic"},"encoding":{"x":{"datum":47.51,"type":"quantitative"},"y":{"datum":0.051,"type":"quantitative"},"text":{"value":"= 27m"}}}
]},
{"width":358,"height":120,"data":{"name":"d3"},"layer":[
{"mark":{"type":"line","color":"black","strokeWidth":2.2,"interpolate":"monotone"},"encoding":{"x":{"field":"t","type":"quantitative","scale":{"domain":[30,70],"nice":false,"zero":false},"axis":{"values":[35,45,55,65],"format":"d","title":null,"labelFont":"serif"}},"y":{"field":"b","type":"quantitative","scale":{"domain":[-0.06,0.06],"nice":false,"zero":false},"axis":{"ticks":false,"labels":false,"title":null}}}},
{"data":{"values":[{}]},"mark":{"type":"rule","color":"black","strokeWidth":1.3,"strokeDash":[7,5]},"encoding":{"y":{"datum":0.03,"type":"quantitative"}}},
{"data":{"values":[{}]},"mark":{"type":"rule","color":"black","strokeWidth":1.3,"strokeDash":[7,5]},"encoding":{"y":{"datum":-0.03,"type":"quantitative"}}},
{"mark":{"type":"line","color":"#ff0000","strokeWidth":2.2,"interpolate":"monotone"},"encoding":{"x":{"field":"t","type":"quantitative"},"y":{"field":"r","type":"quantitative"}}},
{"data":{"values":[{}]},"mark":{"type":"text","font":"Liberation Serif","fontSize":18,"fontStyle":"italic","align":"left","baseline":"alphabetic"},"encoding":{"x":{"datum":31.34,"type":"quantitative"},"y":{"datum":0.038,"type":"quantitative"},"text":{"value":"x"}}},
{"data":{"values":[{}]},"mark":{"type":"text","font":"Liberation Serif","fontSize":18,"align":"left","baseline":"alphabetic"},"encoding":{"x":{"datum":32.57,"type":"quantitative"},"y":{"datum":0.038,"type":"quantitative"},"text":{"value":"= 13m"}}}
]},
{"width":366,"height":120,"data":{"name":"d7"},"layer":[
{"mark":{"type":"line","color":"black","strokeWidth":2.2,"interpolate":"monotone"},"encoding":{"x":{"field":"t","type":"quantitative","scale":{"domain":[50,90],"nice":false,"zero":false},"axis":{"values":[55,65,75,85],"format":"d","title":null,"labelFont":"serif"}},"y":{"field":"b","type":"quantitative","scale":{"domain":[-0.08,0.08],"nice":false,"zero":false},"axis":{"ticks":false,"labels":false,"title":null}}}},
{"data":{"values":[{}]},"mark":{"type":"rule","color":"black","strokeWidth":1.3,"strokeDash":[7,5]},"encoding":{"y":{"datum":0.04,"type":"quantitative"}}},
{"data":{"values":[{}]},"mark":{"type":"rule","color":"black","strokeWidth":1.3,"strokeDash":[7,5]},"encoding":{"y":{"datum":-0.04,"type":"quantitative"}}},
{"mark":{"type":"line","color":"#ff0000","strokeWidth":2.2,"interpolate":"monotone"},"encoding":{"x":{"field":"t","type":"quantitative"},"y":{"field":"r","type":"quantitative"}}},
{"data":{"values":[{}]},"mark":{"type":"text","font":"Liberation Serif","fontSize":18,"fontStyle":"italic","align":"left","baseline":"alphabetic"},"encoding":{"x":{"datum":51.31,"type":"quantitative"},"y":{"datum":0.051,"type":"quantitative"},"text":{"value":"x"}}},
{"data":{"values":[{}]},"mark":{"type":"text","font":"Liberation Serif","fontSize":18,"align":"left","baseline":"alphabetic"},"encoding":{"x":{"datum":52.51,"type":"quantitative"},"y":{"datum":0.051,"type":"quantitative"},"text":{"value":"= 32m"}}}
]},
{"width":358,"height":120,"data":{"name":"d4"},"layer":[
{"mark":{"type":"line","color":"black","strokeWidth":2.2,"interpolate":"monotone"},"encoding":{"x":{"field":"t","type":"quantitative","scale":{"domain":[35,75],"nice":false,"zero":false},"axis":{"values":[40,50,60,70],"format":"d","title":"t (s)","labelFont":"serif","titleFont":"serif"}},"y":{"field":"b","type":"quantitative","scale":{"domain":[-0.06,0.06],"nice":false,"zero":false},"axis":{"values":[-0.06,-0.03,0,0.03,0.06],"format":".2f","title":null,"labelFont":"serif"}}}},
{"data":{"values":[{}]},"mark":{"type":"rule","color":"black","strokeWidth":1.3,"strokeDash":[7,5]},"encoding":{"y":{"datum":0.03,"type":"quantitative"}}},
{"data":{"values":[{}]},"mark":{"type":"rule","color":"black","strokeWidth":1.3,"strokeDash":[7,5]},"encoding":{"y":{"datum":-0.03,"type":"quantitative"}}},
{"mark":{"type":"line","color":"#ff0000","strokeWidth":2.2,"interpolate":"monotone"},"encoding":{"x":{"field":"t","type":"quantitative"},"y":{"field":"r","type":"quantitative"}}},
{"data":{"values":[{}]},"mark":{"type":"text","font":"Liberation Serif","fontSize":18,"fontStyle":"italic","align":"left","baseline":"alphabetic"},"encoding":{"x":{"datum":36.34,"type":"quantitative"},"y":{"datum":0.038,"type":"quantitative"},"text":{"value":"x"}}},
{"data":{"values":[{}]},"mark":{"type":"text","font":"Liberation Serif","fontSize":18,"align":"left","baseline":"alphabetic"},"encoding":{"x":{"datum":37.57,"type":"quantitative"},"y":{"datum":0.038,"type":"quantitative"},"text":{"value":"= 18m"}}}
]},
{"width":366,"height":120,"data":{"name":"d8"},"layer":[
{"mark":{"type":"line","color":"black","strokeWidth":2.2,"interpolate":"monotone"},"encoding":{"x":{"field":"t","type":"quantitative","scale":{"domain":[60,100],"nice":false,"zero":false},"axis":{"values":[65,75,85,95],"format":"d","title":"t (s)","labelFont":"serif","titleFont":"serif"}},"y":{"field":"b","type":"quantitative","scale":{"domain":[-0.08,0.08],"nice":false,"zero":false},"axis":{"values":[-0.08,-0.04,0,0.04,0.08],"format":".2f","title":null,"labelFont":"serif"}}}},
{"data":{"values":[{}]},"mark":{"type":"rule","color":"black","strokeWidth":1.3,"strokeDash":[7,5]},"encoding":{"y":{"datum":0.04,"type":"quantitative"}}},
{"data":{"values":[{}]},"mark":{"type":"rule","color":"black","strokeWidth":1.3,"strokeDash":[7,5]},"encoding":{"y":{"datum":-0.04,"type":"quantitative"}}},
{"mark":{"type":"line","color":"#ff0000","strokeWidth":2.2,"interpolate":"monotone"},"encoding":{"x":{"field":"t","type":"quantitative"},"y":{"field":"r","type":"quantitative"}}},
{"data":{"values":[{}]},"mark":{"type":"text","font":"Liberation Serif","fontSize":18,"fontStyle":"italic","align":"left","baseline":"alphabetic"},"encoding":{"x":{"datum":61.31,"type":"quantitative"},"y":{"datum":0.051,"type":"quantitative"},"text":{"value":"x"}}},
{"data":{"values":[{}]},"mark":{"type":"text","font":"Liberation Serif","fontSize":18,"align":"left","baseline":"alphabetic"},"encoding":{"x":{"datum":62.51,"type":"quantitative"},"y":{"datum":0.051,"type":"quantitative"},"text":{"value":"= 40m"}}}
]}
]
}
